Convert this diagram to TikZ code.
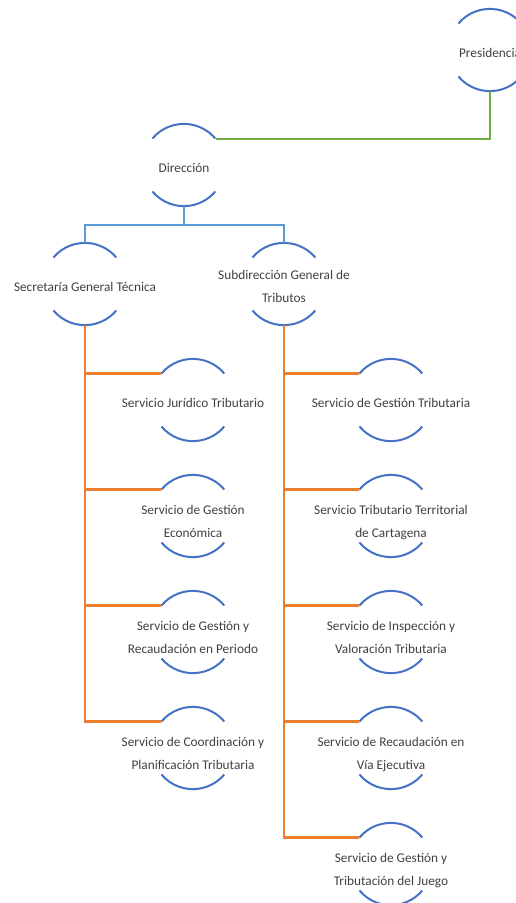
\documentclass[tikz,border=0pt]{standalone}
\usepackage{fontspec}
\setmainfont{Carlito}
\definecolor{arcblue}{HTML}{4472C4}
\definecolor{lnblue}{HTML}{5B9BD5}
\definecolor{lngreen}{HTML}{70AD47}
\definecolor{lnorange}{HTML}{ED7D31}
\definecolor{txt}{HTML}{404040}
\begin{document}
\begin{tikzpicture}[x=1pt,y=-1pt,
  circ/.style={circle,minimum size=82pt,inner sep=0pt,draw=none},
  lbl/.style={anchor=base,align=center,text=txt,font=\fontsize{13.3}{23.5}\selectfont,inner sep=0pt},
  arcline/.style={draw=arcblue,line width=2pt},
  gconn/.style={draw=lngreen,line width=2pt},
  bconn/.style={draw=lnblue,line width=2pt},
  oconn/.style={draw=lnorange,line width=2.2pt}]
\useasboundingbox (0,0) rectangle (516,903);
\clip (0,0) rectangle (516,903);
% circles
\node[circ] (pres) at (490,50) {};
\node[circ] (dir) at (184,165) {};
\node[circ] (sec) at (85,284) {};
\node[circ] (sub) at (284,284) {};
\node[circ] (l1) at (193,400) {};
\node[circ] (l2) at (193,516) {};
\node[circ] (l3) at (193,632) {};
\node[circ] (l4) at (193,748) {};
\node[circ] (r1) at (391,400) {};
\node[circ] (r2) at (391,516) {};
\node[circ] (r3) at (391,632) {};
\node[circ] (r4) at (391,748) {};
\node[circ] (r5) at (391,864) {};
\foreach \n in {pres,dir,sec,sub,l1,l2,l3,l4,r1,r2,r3,r4,r5}{
  \draw[arcline] (\n.140) arc[start angle=140,end angle=40,radius=41pt];
  \draw[arcline] (\n.220) arc[start angle=220,end angle=320,radius=41pt];
}
% labels (base anchor = baseline of last line)
\node[lbl] (prest) at (490,57) {Presidencia};
\node[lbl] (dirt) at (184,172) {Dirección};
\node[lbl] (sect) at (85,291) {Secretaría General Técnica};
\node[lbl] (subt) at (284,302.5) {Subdirección General de\\Tributos};
\node[lbl] (l1t) at (193,407) {Servicio Jurídico Tributario};
\node[lbl] (l2t) at (193,537.5) {Servicio de Gestión\\Económica};
\node[lbl] (l3t) at (193,653.5) {Servicio de Gestión y\\Recaudación en Periodo};
\node[lbl] (l4t) at (193,769.5) {Servicio de Coordinación y\\Planificación Tributaria};
\node[lbl] (r1t) at (391,407) {Servicio de Gestión Tributaria};
\node[lbl] (r2t) at (391,537.5) {Servicio Tributario Territorial\\de Cartagena};
\node[lbl] (r3t) at (391,653.5) {Servicio de Inspección y\\Valoración Tributaria};
\node[lbl] (r4t) at (391,769.5) {Servicio de Recaudación en\\Vía Ejecutiva};
\node[lbl] (r5t) at (391,885.5) {Servicio de Gestión y\\Tributación del Juego};
% connectors
\draw[gconn] (dir.40) -| (pres.south);
\coordinate (bb) at (184,225);
\draw[bconn] (dir.south) -- (bb) -| (sec.north);
\draw[bconn] (bb) -| (sub.north);
\foreach \n in {l1,l2,l3,l4}{\draw[oconn] (sec.south) |- (\n.140);}
\foreach \n in {r1,r2,r3,r4,r5}{\draw[oconn] (sub.south) |- (\n.140);}
\end{tikzpicture}
\end{document}
